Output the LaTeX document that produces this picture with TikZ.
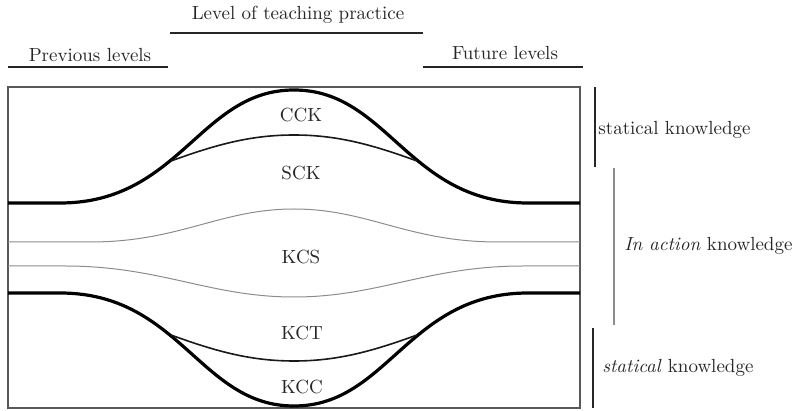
\documentclass[tikz,border=0pt]{standalone}
\begin{document}
\begin{tikzpicture}[x=0.5pt,y=-0.5pt,
  lbl/.style={font=\fontsize{9.5}{11}\selectfont, text=black!85, inner sep=0pt},
  thickc/.style={line width=1.6pt, black},
  thinc/.style={line width=0.8pt, black!90},
  grayc/.style={line width=0.5pt, black!45},
  uline/.style={line width=1pt, black!85},
  frame/.style={line width=0.6pt, black!65},
  bar/.style={line width=1.3pt, black!85},
  graybar/.style={line width=0.6pt, black!45}]
\useasboundingbox (0,0) rectangle (799,411);

% headings
\node[lbl] (top) at (298,15) {Level of teaching practice};
\node[lbl] (prev) at (90,55) {Previous levels};
\node[lbl] (fut) at (505,53) {Future levels};
\draw[uline] (170,33) -- (423,33);
\draw[uline] (8,67) -- (168,67);
\draw[uline] (423,67) -- (583,67);

% frame
\draw[frame] (8,87) rectangle (580,408);

% upper thick bell (CCK)
\draw[thickc] (8,203) -- (60,203) .. controls (180,203) and (200,90) .. (294,90)
  .. controls (388,90) and (408,203) .. (528,203) -- (580,203);
% SCK arc
\draw[thinc] (171,161) .. controls (215,145) and (250,135) .. (294,135)
  .. controls (338,135) and (373,145) .. (417,161);

% KCS lines
\draw[grayc] (8,242) -- (90,242) .. controls (180,242) and (220,209) .. (294,209)
  .. controls (368,209) and (408,242) .. (498,242) -- (580,242);
\draw[grayc] (8,266) -- (65,266) .. controls (160,266) and (210,297) .. (294,297)
  .. controls (378,297) and (428,266) .. (523,266) -- (580,266);

% lower thick bell (KCC)
\draw[thickc] (8,293) -- (60,293) .. controls (180,293) and (200,406) .. (294,406)
  .. controls (388,406) and (408,293) .. (528,293) -- (580,293);
% KCT arc
\draw[thinc] (171,335) .. controls (215,351) and (250,361) .. (294,361)
  .. controls (338,361) and (373,351) .. (417,335);

% region labels
\node[lbl] (cck) at (301,115) {CCK};
\node[lbl] (sck) at (301,173) {SCK};
\node[lbl] (kcs) at (301,257) {KCS};
\node[lbl] (kct) at (302,333) {KCT};
\node[lbl] (kcc) at (302,387) {KCC};

% right brackets
\draw[bar] (595,87) -- (595,167);
\draw[graybar] (614,168) -- (614,325);
\draw[bar] (593,328) -- (593,408);
\node[lbl, anchor=west] (st1) at (598,130) {statical knowledge};
\node[lbl, anchor=west] (ia) at (624,246) {\textit{In action} knowledge};
\node[lbl, anchor=west] (st2) at (602,368) {\textit{statical} knowledge};
\end{tikzpicture}
\end{document}
